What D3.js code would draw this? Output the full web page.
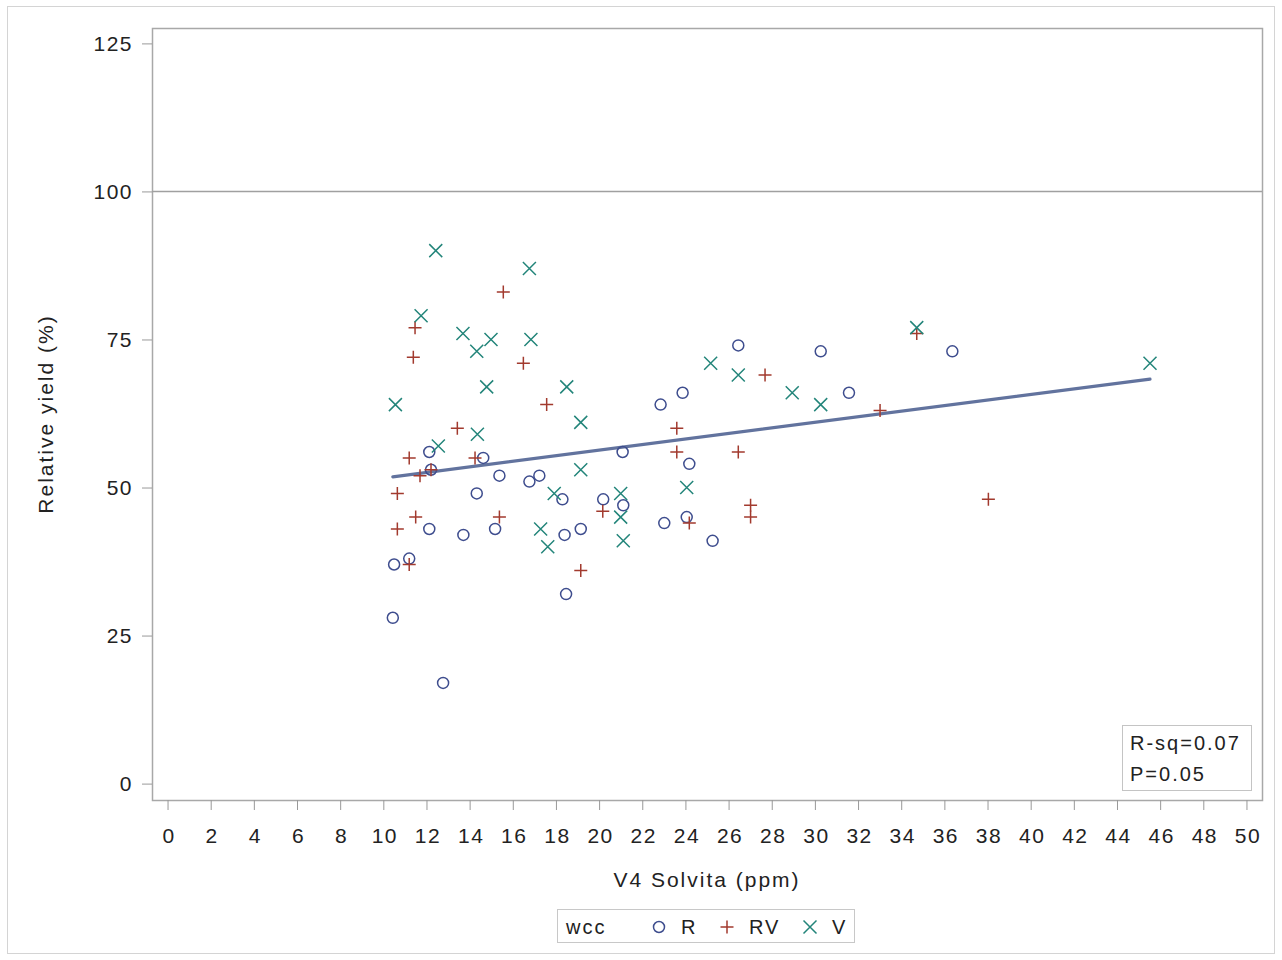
<!DOCTYPE html>
<html>
<head>
    <title></title>
    <style>
        body {
            margin: 0;
            background: #fff;
        }
        text {
            font-family: "Liberation Sans", Arial, sans-serif;
            fill: #222;
        }
        .tick text {
            font-size: 21px;
            letter-spacing: 1.5px;
        }
        .tick line {
            stroke: #999;
        }
        .label {
            font-size: 21px;
            letter-spacing: 2px;
        }
        .note, .legend text {
            font-size: 20px;
            letter-spacing: 2px;
        }
        .R {
            fill: none;
            stroke: #3e4d8e;
            stroke-width: 1.5px;
        }
        .RV {
            fill: none;
            stroke: #a23a2e;
            stroke-width: 1.5px;
        }
        .V {
            fill: none;
            stroke: #23857a;
            stroke-width: 1.5px;
        }
    </style>
</head>
<body>
<script src="https://cdn.jsdelivr.net/npm/d3@7"></script>
<script>
    var width = 1282;
    var height = 960;

    // wcc = R, circles
    var pointsR = [
        [10.44, 28], [10.50, 37], [11.20, 38], [12.13, 56], [12.21, 53], [12.13, 43],
        [12.77, 17], [13.71, 42], [14.33, 49], [14.63, 55], [15.18, 43], [15.38, 52],
        [16.77, 51], [17.23, 52], [18.30, 48], [18.40, 42], [18.47, 32], [19.15, 43],
        [20.19, 48], [21.12, 47], [21.09, 56], [22.85, 64], [23.02, 44], [23.87, 66],
        [24.18, 54], [24.06, 45], [25.26, 41], [26.45, 74], [30.27, 73], [31.58, 66],
        [36.37, 73]
    ];
    // wcc = RV, plus signs
    var pointsRV = [
        [10.65, 49], [10.65, 43], [11.20, 37], [11.20, 55], [11.39, 72], [11.47, 77],
        [11.50, 45], [11.70, 52], [12.21, 53], [13.43, 60], [14.25, 55], [15.38, 45],
        [15.56, 83], [16.49, 71], [17.57, 64], [19.15, 36], [20.17, 46], [23.60, 60],
        [23.60, 56], [24.18, 44], [26.45, 56], [27.02, 47], [27.02, 45], [27.69, 69],
        [33.02, 63], [34.72, 76], [38.04, 48]
    ];
    // wcc = V, crosses
    var pointsV = [
        [10.56, 64], [11.75, 79], [12.43, 90], [12.55, 57], [13.69, 76], [14.33, 73],
        [14.36, 59], [14.79, 67], [14.99, 75], [16.77, 87], [16.84, 75], [17.29, 43],
        [17.62, 40], [17.92, 49], [18.50, 67], [19.15, 61], [19.15, 53], [21.00, 49],
        [21.00, 45], [21.12, 41], [24.06, 50], [25.17, 71], [26.45, 69], [28.95, 66],
        [30.27, 64], [34.72, 77], [45.53, 71]
    ];

    var groups = ["R", "RV", "V"];
    var xTicks = d3.range(0, 51, 2);
    var yTicks = [0, 25, 50, 75, 100, 125];
    var refLine = 100;
    var fitIntercept = 46.9;
    var fitSlope = 0.47;
    var stats = ["R-sq=0.07", "P=0.05"];

    var plotLeft = 152, plotRight = 1262, plotTop = 28, plotBottom = 800;

    var x = d3.scaleLinear().domain([-0.72, 50.72]).range([plotLeft, plotRight]);
    var y = d3.scaleLinear().domain([-2.77, 127.6]).range([plotBottom, plotTop]);

    var svg = d3.select("body").append("svg")
            .attr("width", width)
            .attr("height", height);

    svg.append("rect")
            .attr("x", 7.5).attr("y", 6.5)
            .attr("width", 1267).attr("height", 947)
            .attr("fill", "none").attr("stroke", "#d4d4d4");

    svg.append("rect")
            .attr("x", plotLeft + 0.5).attr("y", plotTop + 0.5)
            .attr("width", plotRight - plotLeft).attr("height", plotBottom - plotTop)
            .attr("fill", "none").attr("stroke", "#a8a8a8").attr("stroke-width", 1.5);

    var xAxis = svg.append("g")
            .attr("transform", "translate(0," + plotBottom + ")")
            .call(d3.axisBottom(x).tickValues(xTicks).tickSize(10).tickPadding(18));
    xAxis.select(".domain").remove();
    xAxis.selectAll("text").attr("dx", "1px");

    var yAxis = svg.append("g")
            .attr("transform", "translate(" + plotLeft + ",0)")
            .call(d3.axisLeft(y).tickValues(yTicks).tickSize(10).tickPadding(9));
    yAxis.select(".domain").remove();

    svg.append("line")
            .attr("x1", plotLeft).attr("x2", plotRight)
            .attr("y1", y(refLine)).attr("y2", y(refLine))
            .attr("stroke", "#a0a0a0").attr("stroke-width", 1.5);

    var allX = pointsR.concat(pointsRV, pointsV).map(function(d) {return d[0];});
    var fitX = d3.extent(allX);
    svg.append("line")
            .attr("x1", x(fitX[0])).attr("x2", x(fitX[1]))
            .attr("y1", y(fitIntercept + fitSlope * fitX[0]))
            .attr("y2", y(fitIntercept + fitSlope * fitX[1]))
            .attr("stroke", "#62739e").attr("stroke-width", 3.2)
            .attr("stroke-linecap", "round");

    var shapes = {
        R: function(g) {g.append("circle").attr("r", 5.5);},
        RV: function(g) {g.append("path").attr("d", "M-6.5,0H6.5M0,-6.5V6.5");},
        V: function(g) {g.append("path").attr("d", "M-6.5,-6.5L6.5,6.5M6.5,-6.5L-6.5,6.5");}
    };
    var data = {R: pointsR, RV: pointsRV, V: pointsV};

    groups.forEach(function(key) {
        svg.append("g").selectAll("g").data(data[key]).enter().append("g")
                .attr("class", key)
                .attr("transform", function(d) {return "translate(" + x(d[0]) + "," + y(d[1]) + ")";})
                .each(function() {shapes[key](d3.select(this));});
    });

    svg.append("text").attr("class", "label")
            .attr("x", (plotLeft + plotRight) / 2).attr("y", 887)
            .attr("text-anchor", "middle")
            .text("V4 Solvita (ppm)");

    svg.append("text").attr("class", "label")
            .attr("transform", "translate(53," + (plotTop + plotBottom) / 2 + ")rotate(-90)")
            .attr("text-anchor", "middle")
            .text("Relative yield (%)");

    // stats inset
    svg.append("rect")
            .attr("x", 1122.5).attr("y", 725.5)
            .attr("width", 129).attr("height", 65)
            .attr("fill", "#fff").attr("stroke", "#c4c4c4");
    svg.selectAll(".note").data(stats).enter().append("text")
            .attr("class", "note")
            .attr("x", 1130)
            .attr("y", function(d, i) {return 750 + i * 31;})
            .text(function(d) {return d;});

    // legend
    var legend = svg.append("g").attr("class", "legend");
    legend.append("rect")
            .attr("x", 557.5).attr("y", 909.5)
            .attr("width", 297).attr("height", 33)
            .attr("fill", "#fff").attr("stroke", "#c8c8c8");
    legend.append("text").attr("x", 566).attr("y", 934).text("wcc");
    var legendX = [659, 727, 810];
    groups.forEach(function(key, i) {
        var item = legend.append("g")
                .attr("class", key)
                .attr("transform", "translate(" + legendX[i] + ",927)");
        shapes[key](item);
        legend.append("text").attr("x", legendX[i] + 22).attr("y", 934).text(key);
    });
</script>
</body>
</html>
